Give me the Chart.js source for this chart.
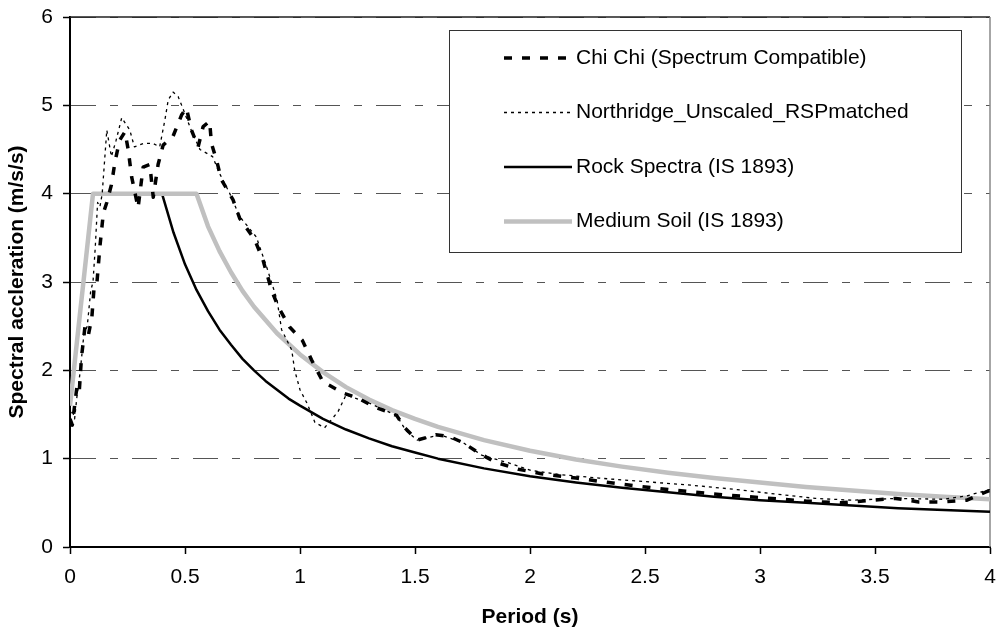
<!DOCTYPE html>
<html>
<head>
<meta charset="utf-8">
<title>Spectral acceleration</title>
<script src="https://cdn.jsdelivr.net/npm/chart.js@4.4.1/dist/chart.umd.min.js"></script>
<style>
  html, body { margin: 0; padding: 0; background: #fff; }
  #wrap { width: 997px; height: 630px; }
</style>
</head>
<body>
<div id="wrap"><canvas id="spectra" width="997" height="630"></canvas></div>
<script>
// Data -----------------------------------------------------------------------------------

var periodTicks = [0, 0.5, 1, 1.5, 2, 2.5, 3, 3.5, 4];
var accelTicks = [0, 1, 2, 3, 4, 5, 6];

var chiChiPeriod = [0, 0.01, 0.02, 0.03, 0.04, 0.05, 0.065, 0.08, 0.095, 0.105, 0.117, 0.13,
    0.145, 0.16, 0.18, 0.195, 0.215, 0.239, 0.253, 0.268, 0.296, 0.318, 0.347, 0.362, 0.383,
    0.405, 0.448, 0.485, 0.506, 0.528, 0.557, 0.579, 0.607, 0.615, 0.637, 0.658, 0.709, 0.738,
    0.803, 0.839, 0.876, 0.905, 0.955, 1.01, 1.05, 1.1, 1.19, 1.25, 1.32, 1.42, 1.455, 1.51,
    1.59, 1.65, 1.71, 1.78, 1.85, 1.95, 2.05, 2.2, 2.4, 2.6, 2.8, 3.0, 3.2, 3.35, 3.49, 3.59,
    3.69, 3.79, 3.9, 3.98, 4.0];
var chiChiAccel = [1.45, 1.38, 1.6, 1.81, 1.75, 2.15, 2.49, 2.4, 2.6, 2.95, 2.99, 3.4,
    3.78, 3.9, 4.1, 4.35, 4.6, 4.7, 4.5, 4.19, 3.84, 4.3, 4.33, 3.96, 4.33,
    4.55, 4.65, 4.89, 4.97, 4.72, 4.53, 4.76, 4.82, 4.57, 4.38, 4.16, 3.93, 3.72,
    3.48, 3.25, 2.91, 2.72, 2.49, 2.34, 2.12, 1.87, 1.74, 1.69, 1.59, 1.49, 1.35, 1.21,
    1.27, 1.25, 1.18, 1.06, 0.96, 0.88, 0.83, 0.78, 0.71, 0.65, 0.6, 0.56, 0.52, 0.5, 0.53, 0.55,
    0.51, 0.51, 0.53, 0.62, 0.64];

var northridgePeriod = [0, 0.01, 0.02, 0.03, 0.045, 0.06, 0.075, 0.09, 0.1, 0.11, 0.12, 0.13,
    0.14, 0.16, 0.18, 0.2, 0.225, 0.26, 0.28, 0.32, 0.36, 0.39, 0.413, 0.427, 0.448, 0.47,
    0.49, 0.53, 0.565, 0.62, 0.65, 0.695, 0.738, 0.81, 0.855, 0.9, 0.92, 0.964, 0.977, 1.0,
    1.03, 1.065, 1.107, 1.165, 1.2, 1.3, 1.42, 1.46, 1.51, 1.61, 1.71, 1.79, 1.91, 2.0, 2.13,
    2.3, 2.5, 2.7, 2.9, 3.0, 3.24, 3.4, 3.6, 3.8, 3.9, 4.0];
var northridgeAccel = [1.5, 1.55, 1.45, 1.7, 2.0, 2.4, 2.5, 2.9, 3.0, 3.4, 3.9, 3.85,
    4.0, 4.72, 4.42, 4.6, 4.86, 4.72, 4.53, 4.57, 4.57, 4.53, 4.84, 5.06, 5.15, 5.1,
    4.97, 4.7, 4.5, 4.42, 4.23, 4.0, 3.74, 3.51, 3.17, 2.8, 2.46, 2.23, 2.0, 1.78,
    1.63, 1.41, 1.35, 1.53, 1.72, 1.63, 1.49, 1.32, 1.21, 1.27, 1.18, 1.04, 0.95, 0.87, 0.82,
    0.78, 0.74, 0.7, 0.65, 0.62, 0.55, 0.53, 0.55, 0.54, 0.58, 0.65];

var rockPeriod = [0, 0.1, 0.4, 0.45, 0.5, 0.55, 0.6, 0.65, 0.7, 0.75, 0.8, 0.85, 0.9, 0.95,
    1.0, 1.1, 1.2, 1.3, 1.4, 1.5, 1.6, 1.8, 2.0, 2.2, 2.4, 2.6, 2.8, 3.0, 3.2, 3.4, 3.6, 3.8, 4.0];
var rockAccel = [1.6, 4.0, 4.0, 3.56, 3.2, 2.91, 2.67, 2.46, 2.29, 2.13, 2.0, 1.88, 1.78, 1.68,
    1.6, 1.45, 1.33, 1.23, 1.14, 1.07, 1.0, 0.89, 0.8, 0.73, 0.67, 0.62, 0.57, 0.53, 0.5, 0.47,
    0.44, 0.42, 0.4];

var soilPeriod = [0, 0.1, 0.55, 0.6, 0.65, 0.7, 0.75, 0.8, 0.9, 1.0, 1.1, 1.2, 1.3, 1.4, 1.5,
    1.6, 1.8, 2.0, 2.2, 2.4, 2.6, 2.8, 3.0, 3.2, 3.4, 3.6, 3.8, 4.0];
var soilAccel = [1.6, 4.0, 4.0, 3.63, 3.35, 3.11, 2.9, 2.72, 2.42, 2.18, 1.98, 1.81, 1.67, 1.55,
    1.45, 1.36, 1.21, 1.09, 0.99, 0.91, 0.84, 0.78, 0.73, 0.68, 0.64, 0.6, 0.57, 0.54];

// Helpers --------------------------------------------------------------------------------

var FONT = '"Liberation Sans", Arial, sans-serif';

function toPoints(xs, ys) {
    return xs.map(function (x, i) { return { x: x, y: ys[i] }; });
}

function setTicks(values) {
    return function (scale) {
        scale.ticks = values.map(function (v) { return { value: v }; });
    };
}

function plainLabel(value) {
    return String(value);
}

// Boxed legend drawn inside the plot, as in the original spreadsheet chart
var boxLegend = {
    id: 'boxLegend',
    afterDraw: function (chart) {
        var ctx = chart.ctx;
        ctx.save();
        ctx.fillStyle = '#fff';
        ctx.fillRect(449.5, 30.5, 512, 222);
        ctx.strokeStyle = '#333';
        ctx.lineWidth = 1;
        ctx.setLineDash([]);
        ctx.strokeRect(449.5, 30.5, 512, 222);

        chart.data.datasets.forEach(function (ds, i) {
            var y = 58 + i * 54.5;
            ctx.beginPath();
            ctx.setLineDash(ds.borderDash || []);
            ctx.strokeStyle = ds.borderColor;
            ctx.lineWidth = ds.borderWidth;
            ctx.moveTo(504, y);
            ctx.lineTo(572, y);
            ctx.stroke();
            ctx.setLineDash([]);
            ctx.fillStyle = '#000';
            ctx.font = '21px ' + FONT;
            ctx.textBaseline = 'middle';
            ctx.textAlign = 'left';
            ctx.fillText(ds.label, 576, y);
        });
        ctx.restore();
    }
};

// Top and right edges of the plot area
var plotFrame = {
    id: 'plotFrame',
    beforeDatasetsDraw: function (chart) {
        var a = chart.chartArea;
        var ctx = chart.ctx;
        ctx.save();
        ctx.lineWidth = 1.5;
        ctx.strokeStyle = '#222';
        ctx.beginPath();
        ctx.moveTo(a.left, a.top);
        ctx.lineTo(a.right, a.top);
        ctx.stroke();
        ctx.strokeStyle = '#888';
        ctx.beginPath();
        ctx.moveTo(a.right, a.top);
        ctx.lineTo(a.right, a.bottom);
        ctx.stroke();
        ctx.restore();
    }
};

// Chart ----------------------------------------------------------------------------------

Chart.defaults.font.family = FONT;
Chart.defaults.color = '#000';

var datasets = [{
    label: 'Chi Chi (Spectrum Compatible)',
    data: toPoints(chiChiPeriod, chiChiAccel),
    borderColor: '#000',
    borderWidth: 3.5,
    borderDash: [8, 10],
    order: 1
}, {
    label: 'Northridge_Unscaled_RSPmatched',
    data: toPoints(northridgePeriod, northridgeAccel),
    borderColor: '#000',
    borderWidth: 1.3,
    borderDash: [3, 4],
    order: 2
}, {
    label: 'Rock Spectra (IS 1893)',
    data: toPoints(rockPeriod, rockAccel),
    borderColor: '#000',
    borderWidth: 2.5,
    order: 4
}, {
    label: 'Medium Soil (IS 1893)',
    data: toPoints(soilPeriod, soilAccel),
    borderColor: '#c0c0c0',
    borderWidth: 4.5,
    order: 3
}];

datasets.forEach(function (ds) {
    ds.pointRadius = 0;
    ds.pointHoverRadius = 0;
    ds.fill = false;
    ds.tension = 0;
    ds.borderJoinStyle = 'round';
});

new Chart(document.getElementById('spectra').getContext('2d'), {
    type: 'line',
    data: { datasets: datasets },
    plugins: [plotFrame, boxLegend],
    options: {
        responsive: false,
        animation: false,
        devicePixelRatio: 1,
        layout: { padding: { top: 17, right: 7, left: 0, bottom: 0 } },
        plugins: { legend: { display: false }, tooltip: { enabled: false } },
        scales: {
            x: {
                type: 'linear',
                min: 0,
                max: 4,
                afterBuildTicks: setTicks(periodTicks),
                afterFit: function (s) {
                    s.height = 83;
                    s.paddingLeft = 0;
                    s.paddingRight = 0;
                },
                ticks: { font: { size: 21 }, padding: 11, maxRotation: 0, autoSkip: false, callback: plainLabel },
                grid: { drawOnChartArea: false, tickLength: 7, tickColor: '#000', tickWidth: 1.5 },
                border: { color: '#000', width: 2 },
                title: {
                    display: true,
                    text: 'Period (s)',
                    font: { size: 21, weight: 'bold', lineHeight: 1.2 },
                    padding: 0
                }
            },
            y: {
                min: 0,
                max: 6,
                afterBuildTicks: setTicks(accelTicks),
                afterFit: function (s) {
                    s.width = 70;
                    s.paddingTop = 0;
                    s.paddingBottom = 0;
                },
                ticks: { font: { size: 21 }, padding: 10, callback: plainLabel },
                grid: { color: '#555', lineWidth: 1, tickLength: 7, tickColor: '#000', tickWidth: 1.5 },
                border: { color: '#000', width: 2, dash: [25, 14, 8, 14] },
                title: {
                    display: true,
                    text: 'Spectral accleration (m/s/s)',
                    font: { size: 21, weight: 'bold', lineHeight: 1.2 },
                    padding: { top: 5, bottom: 0 }
                }
            }
        }
    }
});
</script>
</body>
</html>
